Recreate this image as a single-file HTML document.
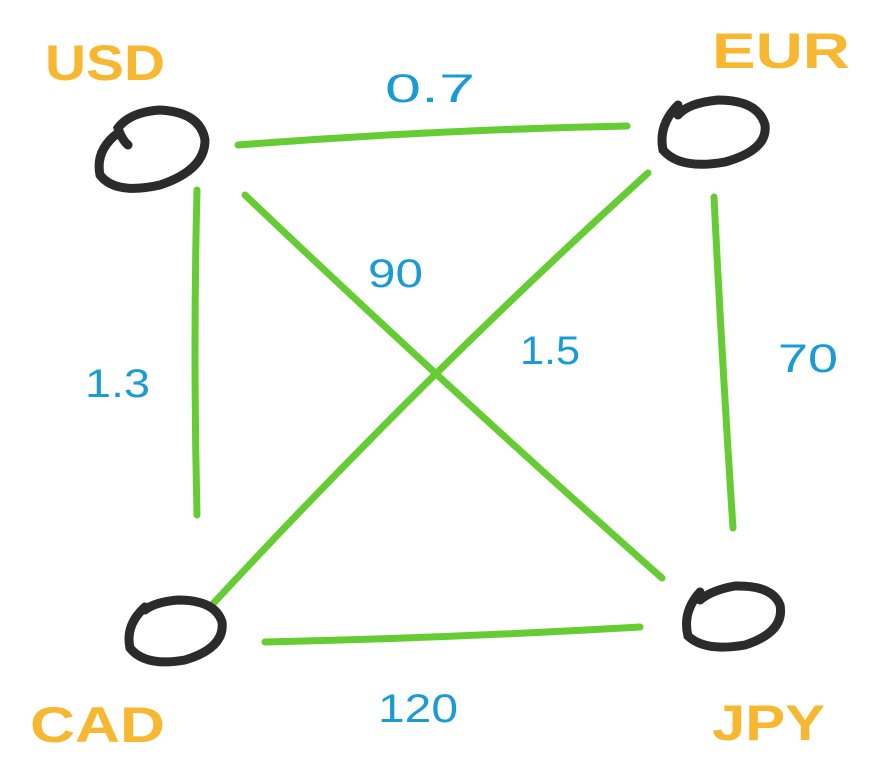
<!DOCTYPE html>
<html><head><meta charset="utf-8"><style>
html,body{margin:0;padding:0;background:#fff;}
svg{display:block;}
.lbl{font-family:"Liberation Sans",sans-serif;font-weight:bold;fill:#f7b731;font-size:50px;}
.num{font-family:"Liberation Sans",sans-serif;fill:#1b9bd6;font-size:40px;}
</style></head><body>
<svg width="896" height="778" viewBox="0 0 896 778" xmlns="http://www.w3.org/2000/svg">
<g fill="none" stroke="#66cc33" stroke-width="7" stroke-linecap="round">
<path d="M238 145 Q430 130 627 126"/>
<path d="M197 190 Q193 350 197 515"/>
<path d="M714 197 Q722 360 733 528"/>
<path d="M265 642 Q450 638 640 627"/>
<path d="M245 195 Q450 390 662 578"/>
<path d="M648 173 Q420 380 210 607"/>
</g>
<g fill="none" stroke="#2b2b2b" stroke-width="9" stroke-linecap="round">
<path d="M118 133 Q95 150 100 175 Q115 195 160 185 Q205 170 205 140 Q200 112 160 110 Q130 112 118 128 Q122 140 128 145"/>
<path d="M678 105 Q658 125 663 150 Q680 170 725 162 Q768 150 765 125 Q758 100 718 100 Q688 103 678 115"/>
<path d="M145 607 Q125 625 130 648 Q145 667 185 660 Q225 648 222 622 Q215 600 178 600 Q155 602 145 610"/>
<path d="M700 592 Q682 612 688 636 Q705 652 745 645 Q785 632 780 605 Q772 585 735 586 Q712 590 700 600"/>
</g>
<text class="lbl" x="45" y="80" textLength="120" lengthAdjust="spacingAndGlyphs">USD</text>
<text class="lbl" x="712" y="68" textLength="138" lengthAdjust="spacingAndGlyphs">EUR</text>
<text class="lbl" x="30" y="742" textLength="135" lengthAdjust="spacingAndGlyphs">CAD</text>
<text class="lbl" x="712" y="740" textLength="113" lengthAdjust="spacingAndGlyphs">JPY</text>
<text class="num" x="385" y="102" textLength="90" lengthAdjust="spacingAndGlyphs">0.7</text>
<text class="num" x="368" y="287" textLength="55" lengthAdjust="spacingAndGlyphs">90</text>
<text class="num" x="520" y="364" textLength="60" lengthAdjust="spacingAndGlyphs">1.5</text>
<text class="num" x="778" y="372" textLength="60" lengthAdjust="spacingAndGlyphs">70</text>
<text class="num" x="85" y="397" textLength="65" lengthAdjust="spacingAndGlyphs">1.3</text>
<text class="num" x="378" y="722" textLength="80" lengthAdjust="spacingAndGlyphs">120</text>
</svg>
</body></html>
